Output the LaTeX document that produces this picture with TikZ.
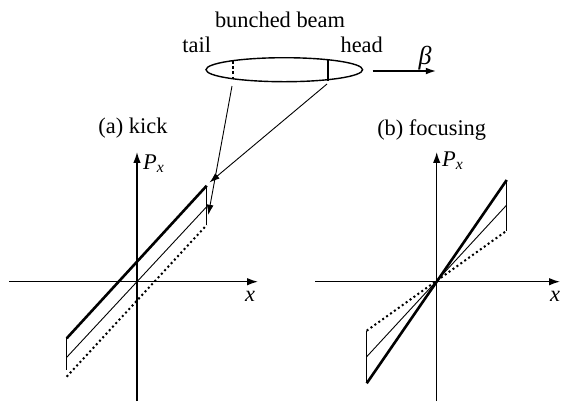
\documentclass[tikz,border=0pt]{standalone}
\usepackage{fontspec}
\setmainfont{Liberation Serif}
\usetikzlibrary{arrows.meta,shapes.geometric}
\tikzset{
    axisline/.style={-{Latex[length=1.9mm,width=1.3mm]},line width=0.7pt},
    beamline/.style={-{Latex[length=1.8mm,width=1.2mm]},line width=0.45pt},
    thickphase/.style={line width=1.3pt},
    thinphase/.style={line width=0.45pt},
    dotphase/.style={line width=1pt,dash pattern=on 1pt off 1.4pt},
    endline/.style={line width=0.6pt},
    beamshape/.style={ellipse,draw,line width=0.7pt,inner sep=0pt,minimum width=78.3pt,minimum height=12pt},
    lbl/.style={font=\fontsize{11.2}{13}\selectfont,inner sep=0pt}
}
\newcommand{\pxlabel}{\textit{P}\textsubscript{\textit{x}}}
\begin{document}
\begin{tikzpicture}[x=0.5pt,y=-0.5pt]
    \useasboundingbox (0,0) rectangle (561,403);
    % bunch
    \node[lbl] (title) at (280,20) {bunched beam};
    \node[lbl] (tail) at (196.7,45) {tail};
    \node[lbl] (head) at (361.7,45) {head};
    \node[beamshape] (beam) at (284.3,69.7) {};
    \coordinate (tailtop) at (232.7,60.5);
    \coordinate (tailbot) at (232.7,78);
    \coordinate (headtop) at (327.7,59);
    \coordinate (headbot) at (327.7,80.5);
    \draw[line width=0.9pt,dash pattern=on 1.5pt off 1.2pt] (tailtop) -- (tailbot);
    \draw[line width=1pt] (headtop) -- (headbot);
    \coordinate (dirstart) at (372.7,71);
    \coordinate (dirend) at (436,71);
    \draw[beamline,line width=0.7pt] (dirstart) -- (dirend);
    \node[lbl,font=\fontsize{13}{15}\selectfont] (beta) at (425,58) {\textit{β}};

    % (a) kick
    \node[lbl] (kicklbl) at (133,128) {(a) kick};
    \coordinate (ka) at (137,281.7);
    \coordinate (kxl) at (9.3,281.7);
    \coordinate (kxr) at (258,281.7);
    \coordinate (kyb) at (137,401);
    \coordinate (kyt) at (137,152);
    \draw[axisline] (kxl) -- (kxr);
    \draw[axisline] (kyb) -- (kyt);
    \node[lbl] (kpx) at (154,164) {\pxlabel};
    \node[lbl] (kx) at (250,296) {\textit{x}};
    \coordinate (k1) at (66.7,338.3);
    \coordinate (k2) at (206.7,185.7);
    \coordinate (k3) at (66.7,357.3);
    \coordinate (k4) at (206.7,206.7);
    \coordinate (k5) at (66.7,376.7);
    \coordinate (k6) at (206.7,225);
    \draw[thickphase] (k1) -- (k2);
    \draw[thinphase] (k3) -- (k4);
    \draw[dotphase] (k5) -- (k6);
    \draw[endline] (k1) -- (66.7,370);
    \draw[endline] (k2) -- (k6);
    \draw[beamline] (232,86) -- (208.3,215);
    \draw[beamline] (327,84) -- (209.5,182.5);

    % (b) focusing
    \node[lbl] (foclbl) at (431.7,130) {(b) focusing};
    \coordinate (fa) at (436.7,281.7);
    \coordinate (fxl) at (315,281.7);
    \coordinate (fxr) at (560,281.7);
    \coordinate (fyb) at (436.7,401);
    \coordinate (fyt) at (436.7,152);
    \draw[axisline] (fxl) -- (fxr);
    \draw[axisline] (fyb) -- (fyt);
    \node[lbl] (fpx) at (453,161) {\pxlabel};
    \node[lbl] (fx) at (555,296) {\textit{x}};
    \coordinate (f1) at (366.7,383.3);
    \coordinate (f2) at (506.7,180);
    \coordinate (f3) at (366.7,356.7);
    \coordinate (f4) at (506.7,205);
    \coordinate (f5) at (366.7,330.7);
    \coordinate (f6) at (506.7,230.7);
    \draw[thickphase] (f1) -- (f2);
    \draw[thinphase] (f3) -- (f4);
    \draw[dotphase] (f5) -- (f6);
    \draw[endline] (f5) -- (f1);
    \draw[endline] (f2) -- (f6);
\end{tikzpicture}
\end{document}
